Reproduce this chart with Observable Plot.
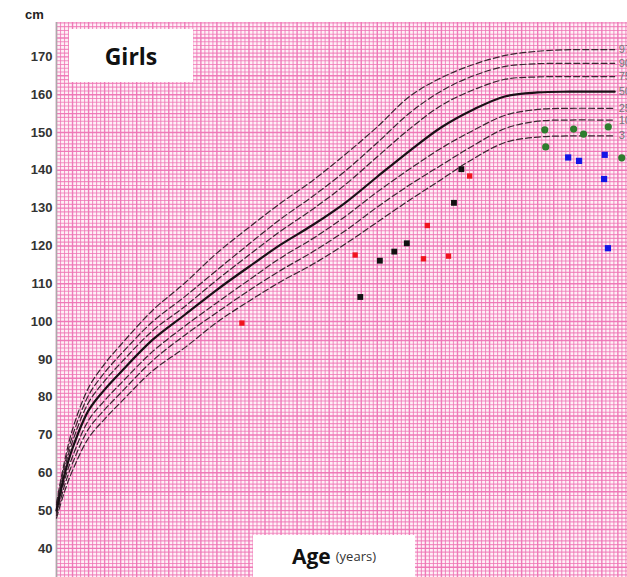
<!DOCTYPE html>
<html>
<head>
<meta charset="utf-8">
<script src="https://cdn.jsdelivr.net/npm/d3@7"></script>
<script src="https://cdn.jsdelivr.net/npm/@observablehq/plot@0.6"></script>
<style>
  html, body { margin: 0; padding: 0; background: #fff; }
  #wrap { position: relative; width: 627px; height: 577px; overflow: hidden; font-family: "Liberation Sans", Arial, sans-serif; }
  #wrap svg { position: absolute; left: 0; top: 0; }
  .box { position: absolute; background: #fff; }
  .cm { position: absolute; left: 25px; top: 7px; font-weight: bold; font-size: 13px; color: #222; }
</style>
</head>
<body>
<div id="wrap"></div>
<script>
// Percentile curves (age in years, height in cm)
const ages = [0, 0.25, 0.5, 1, 1.5, 2, 3, 4, 5, 6, 7, 8, 9, 10, 11, 12, 13, 14, 15, 16, 17, 17.4];
const p97 = [52, 63, 71.5, 82.5, 88.8, 93.8, 103, 110.2, 118.1, 124.9, 131.4, 137.4, 144.2, 151.5, 159.5, 164.5, 168, 170.4, 171.5, 171.9, 171.9, 171.9];
const p90 = [51.5, 62, 69.8, 80.5, 86.5, 91.3, 100, 106.6, 113.6, 120.5, 127.2, 133.2, 139.8, 147.3, 155.1, 161, 165, 167.5, 168.2, 168.3, 168.3, 168.3];
const p75 = [50.8, 61, 68.3, 78.6, 84.3, 89, 97.6, 104, 111, 117.6, 124, 129.8, 136.2, 143.6, 150.9, 157.2, 161.3, 164.1, 164.7, 164.8, 164.8, 164.8];
const p50 = [50, 59.5, 66.5, 76.5, 82, 86.6, 95.2, 101.8, 108.4, 114.5, 120.4, 125.6, 131.4, 138.3, 145.1, 151.4, 156.1, 159.6, 160.6, 160.8, 160.8, 160.8];
const p25 = [49.3, 58, 64.3, 73.9, 79.1, 83.6, 92.1, 98.8, 105, 111, 116.9, 122, 127.8, 134.3, 140.3, 145.9, 150.6, 154.6, 156.1, 156.4, 156.4, 156.4];
const p10 = [48.7, 56.6, 62.5, 71.6, 76.7, 81.1, 89.7, 96.4, 102.4, 108.2, 113.6, 118.5, 124, 130.3, 136.1, 141.4, 146.6, 151.1, 153, 153.3, 153.3, 153.3];
const p3  = [48, 55, 60.6, 69.2, 74.2, 78.6, 87, 93.1, 99.8, 105.4, 110.6, 115.2, 120.5, 126.3, 132.1, 137.6, 143.1, 147.4, 148.8, 149.1, 149.1, 149.1];
const percentileLabels = ["97", "90", "75", "50", "25", "10", "3"];

// Patients
const redAges = [5.78, 9.31, 11.44, 11.56, 12.22, 12.88];
const redHeights = [99.6, 117.6, 116.6, 125.4, 117.3, 138.5];
const blackAges = [9.47, 10.08, 10.53, 10.92, 12.39, 12.62];
const blackHeights = [106.5, 116.1, 118.5, 120.7, 131.4, 140.3];
const greenAges = [15.22, 15.25, 16.12, 16.43, 17.2, 17.62];
const greenHeights = [150.7, 146.2, 150.9, 149.6, 151.5, 143.3];
const blueAges = [15.95, 16.29, 17.09, 17.07, 17.19];
const blueHeights = [143.4, 142.5, 144.1, 137.7, 119.4];

const yTicks = [40, 50, 60, 70, 80, 90, 100, 110, 120, 130, 140, 150, 160, 170];

const series = [p97, p90, p75, p50, p25, p10, p3];
const curveRows = series.flatMap((vals, i) => ages.map((a, j) => ({age: a, h: vals[j], pct: percentileLabels[i]})));
const dashedRows = curveRows.filter(d => d.pct !== "50");
const solidRows = curveRows.filter(d => d.pct === "50");
const endRows = series.map((vals, i) => ({age: ages[ages.length - 1], h: vals[vals.length - 1], pct: percentileLabels[i]}));
const pts = (A, H) => A.map((a, i) => ({age: a, h: H[i]}));

const xDomain = [0, 17.8];
const yDomain = [32.3, 179.1];
const hLines = d3.range(33, 180, 1);
const vLines = d3.range(0, 17.8, 0.125);

const chart = Plot.plot({
  width: 627,
  height: 577,
  marginLeft: 56,
  marginRight: 0,
  marginTop: 22,
  marginBottom: 0,
  x: {domain: xDomain, axis: null},
  y: {domain: yDomain, ticks: yTicks, label: null},
  style: {fontFamily: "Liberation Sans, Arial, sans-serif", background: "transparent"},
  marks: [
    Plot.frame({fill: "#fff0f7", stroke: null}),
    Plot.ruleY(hLines, {stroke: "#ee74b5", strokeWidth: d => d % 5 === 0 ? 1.4 : 1.1, strokeOpacity: d => d % 5 === 0 ? 0.95 : 0.78}),
    Plot.ruleX(vLines, {stroke: "#ee74b5", strokeWidth: (d, i) => i % 4 === 0 ? 1.4 : 1.1, strokeOpacity: (d, i) => i % 4 === 0 ? 0.95 : 0.78}),
    Plot.axisY({ticks: yTicks, tickSize: 0, tickPadding: 4, fontSize: 13, fill: "#333", fontWeight: "bold", label: null}),
    Plot.ruleX([0], {stroke: "#aaa", strokeWidth: 1.5}),
    Plot.line(dashedRows, {x: "age", y: "h", z: "pct", stroke: "#3a2530", strokeWidth: 1.2, strokeDasharray: "6,3", curve: "catmull-rom"}),
    Plot.line(solidRows, {x: "age", y: "h", stroke: "#1a1016", strokeWidth: 2.2, curve: "catmull-rom"}),
    Plot.text(endRows, {x: "age", y: "h", text: "pct", dx: 4, textAnchor: "start", fill: "#777", fontSize: 11}),
    Plot.dot(pts(redAges, redHeights), {x: "age", y: "h", symbol: "square", r: 3, fill: "#f0141e", stroke: null}),
    Plot.dot(pts(blackAges, blackHeights), {x: "age", y: "h", symbol: "square", r: 3.3, fill: "#111", stroke: null}),
    Plot.dot(pts(greenAges, greenHeights), {x: "age", y: "h", r: 3.6, fill: "#2e7d2e", stroke: null}),
    Plot.dot(pts(blueAges, blueHeights), {x: "age", y: "h", symbol: "square", r: 3.5, fill: "#1414e6", stroke: null})
  ]
});

const wrap = document.getElementById("wrap");
wrap.appendChild(chart);

const girls = document.createElement("div");
girls.className = "box";
Object.assign(girls.style, {left: "69px", top: "29px", width: "124px", height: "53px", display: "flex", alignItems: "center", justifyContent: "center", fontFamily: "'Open Sans', sans-serif", fontWeight: "bold", fontSize: "23px", color: "#111"});
girls.textContent = "Girls";
wrap.appendChild(girls);

const age = document.createElement("div");
age.className = "box";
Object.assign(age.style, {left: "253px", top: "535px", width: "162px", height: "42px", display: "flex", alignItems: "center", justifyContent: "center", fontFamily: "'Open Sans', sans-serif", color: "#111"});
age.innerHTML = '<span style="font-weight:bold;font-size:21px;">Age</span><span style="font-size:13px;margin-left:5px;color:#333;">(years)</span>';
wrap.appendChild(age);

const cm = document.createElement("div");
cm.className = "cm";
cm.textContent = "cm";
wrap.appendChild(cm);
</script>
</body>
</html>
